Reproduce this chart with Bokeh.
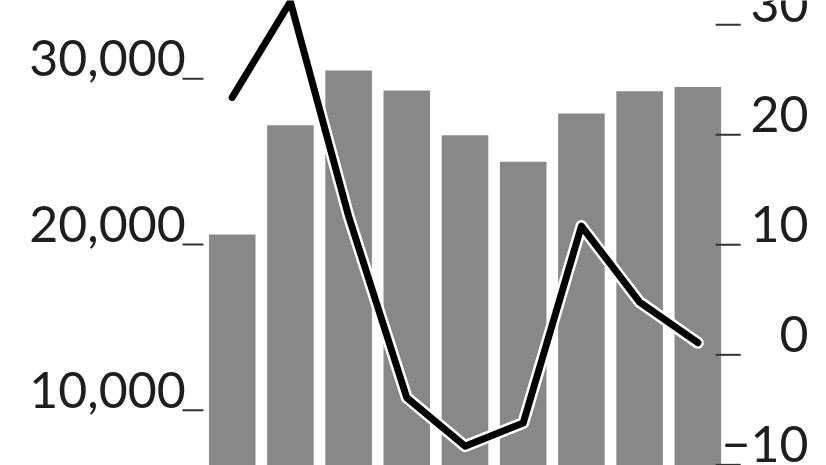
from bokeh.plotting import figure
from bokeh.models import Range1d
from bokeh.core.properties import value
from bokeh.embed import file_html
from bokeh.resources import INLINE

# values
periods = list(range(9))
bar_values = [20600, 27200, 30500, 29300, 26600, 25000, 27900, 29250, 29500]
line_values = [23.4, 32.1, 12.6, -3.9, -8.3, -6.2, 11.7, 4.8, 1.1]

left_ticks = [10000, 20000, 30000]
left_labels = ["10,000", "20,000", "30,000"]
right_ticks = [-10, 0, 10, 20, 30]
right_labels = ["\u221210", "0", "10", "20", "30"]

FONT = value("Lato")
FONT_SIZE = "50px"
TEXT_COLOR = "#1e1e1e"
TICK_COLOR = "#333333"
BAR_COLOR = "#888888"

p = figure(width=826, height=465,
           x_range=Range1d(-3.981, 10.211),
           y_range=Range1d(6663, 34725),
           x_axis_location=None, y_axis_location=None,
           min_border=0, toolbar_location=None, output_backend="svg")
p.extra_y_ranges = {"right": Range1d(-10.06, 32.21)}
p.grid.visible = False
p.outline_line_color = None

# bars, left scale
p.vbar(x=periods, top=bar_values, bottom=0, width=0.8,
       fill_color=BAR_COLOR, line_color=None)

# line with a white halo, right scale
p.line(periods, line_values, y_range_name="right", line_color="white",
       line_width=12, line_join="round", line_cap="round")
p.line(periods, line_values, y_range_name="right", line_color="black",
       line_width=7, line_join="round", line_cap="round")

# left "axis": short ticks, labels sit just above them
n = len(left_ticks)
p.segment(x0=[-0.854] * n, x1=[-0.493] * n, y0=left_ticks, y1=left_ticks,
          line_color=TICK_COLOR, line_width=2)
p.text(x=[-0.80] * n, y=[t + 1240 for t in left_ticks], text=left_labels,
       text_align="right", text_baseline="middle",
       text_font=FONT, text_font_size=FONT_SIZE, text_color=TEXT_COLOR)

# right "axis"
m = len(right_ticks)
p.segment(x0=[8.307] * m, x1=[8.737] * m, y0=right_ticks, y1=right_ticks,
          y_range_name="right", line_color=TICK_COLOR, line_width=2)
p.text(x=[9.90] * m, y=[t + 1.86 for t in right_ticks], text=right_labels,
       y_range_name="right", text_align="right", text_baseline="middle",
       text_font=FONT, text_font_size=FONT_SIZE, text_color=TEXT_COLOR)

open("out.html", "w").write(file_html(p, INLINE))
